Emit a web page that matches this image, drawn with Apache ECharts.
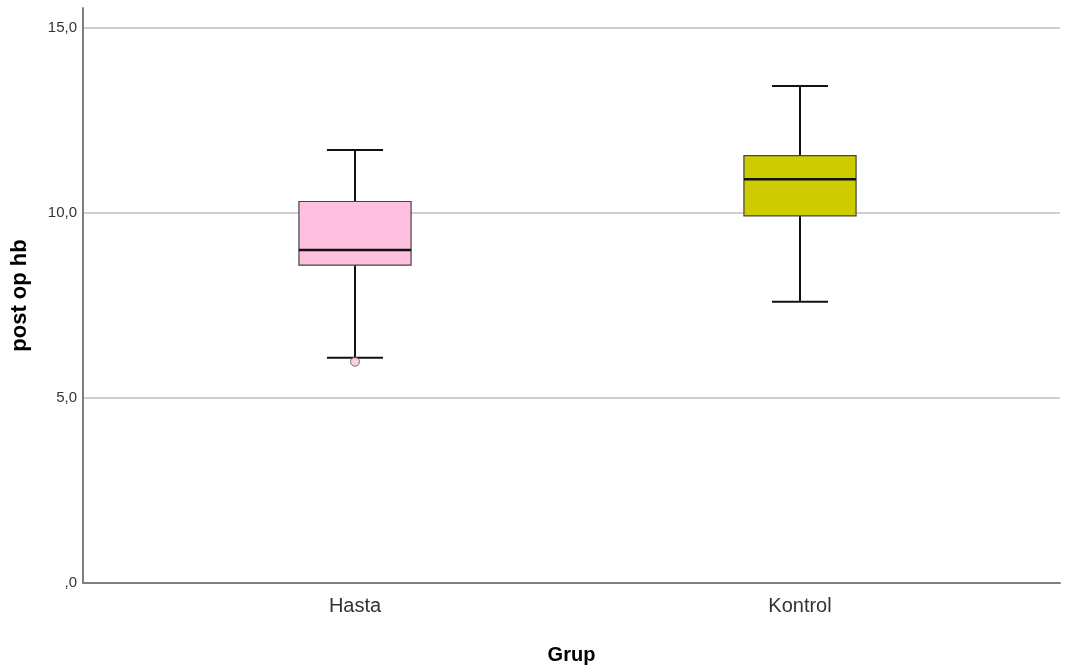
<!DOCTYPE html>
<html>
<head>
<meta charset="utf-8">
<script src="https://cdn.jsdelivr.net/npm/echarts@6/dist/echarts.min.js"></script>
<style>
  html, body { margin: 0; padding: 0; background: #ffffff; }
  #chart { width: 1076px; height: 670px; }
</style>
</head>
<body>
<div id="chart"></div>
<script>
// Groups and five-number summaries of post-operative haemoglobin
var categories = ['Hasta', 'Kontrol'];
var whiskerLow = [6.09, 7.60];
var q1 = [8.59, 9.92];
var median = [9.00, 10.91];
var q3 = [10.31, 11.55];
var whiskerHigh = [11.70, 13.43];
// Outlier points: [group index, value]
var outliers = [[0, 5.98]];
var yTicks = [0, 5, 10, 15];

var boxColors = ['#ffc0e0', '#cccc00'];

var boxData = categories.map(function (c, i) {
  return [i, whiskerLow[i], q1[i], median[i], q3[i], whiskerHigh[i]];
});

function fmtTick(v) {
  if (v === 0) return ',0';
  return v.toFixed(1).replace('.', ',');
}

var FONT = 'Liberation Sans, Arial, sans-serif';
var yMax = 15.54;
var TOP = 8, BOTTOM = 87;

// Split lines at the regular ticks; the extra line at the axis top stays invisible
var splitColors = yTicks.map(function () { return '#cfcfcf'; }).concat(['rgba(0,0,0,0)']);

var chart = echarts.init(document.getElementById('chart'));

chart.setOption({
  animation: false,
  backgroundColor: '#ffffff',
  grid: [
    { left: 83, right: 16, top: TOP, bottom: BOTTOM },
    { left: 132.5, right: 53.5, top: TOP, bottom: BOTTOM }
  ],
  xAxis: [
    {
      gridIndex: 0, type: 'category', data: categories,
      axisLine: { lineStyle: { color: '#7f7f7f', width: 2 } },
      axisTick: { show: false }, axisLabel: { show: false },
      splitLine: { show: false },
      name: 'Grup', nameLocation: 'middle', nameGap: 62,
      nameTextStyle: { fontFamily: FONT, fontWeight: 'bold', fontSize: 20, color: '#000' }
    },
    {
      gridIndex: 1, type: 'category', data: categories,
      axisLine: { show: false }, axisTick: { show: false },
      axisLabel: { margin: 13, fontFamily: FONT, fontSize: 20, color: '#333' }
    }
  ],
  yAxis: [
    {
      gridIndex: 0, type: 'value', min: 0, max: yMax, interval: 5,
      axisLine: { show: true, lineStyle: { color: '#7f7f7f', width: 2 } },
      axisTick: { show: false },
      axisLabel: {
        margin: 6, fontFamily: FONT, fontSize: 15, color: '#333',
        formatter: function (v) { return yTicks.indexOf(v) >= 0 ? fmtTick(v) : ''; },
        showMaxLabel: false
      },
      splitLine: { show: true, lineStyle: { color: splitColors, width: 2 } },
      name: 'post op hb', nameLocation: 'middle', nameGap: 52, nameRotate: 90,
      nameTextStyle: { fontFamily: FONT, fontWeight: 'bold', fontSize: 22, color: '#000' }
    },
    {
      gridIndex: 1, type: 'value', min: 0, max: yMax,
      show: false, splitLine: { show: false }
    }
  ],
  series: [
    {
      type: 'custom',
      xAxisIndex: 1, yAxisIndex: 1,
      data: boxData,
      renderItem: function (params, api) {
        var idx = api.value(0);
        var pLow = api.coord([idx, api.value(1)]);
        var pQ1 = api.coord([idx, api.value(2)]);
        var pMed = api.coord([idx, api.value(3)]);
        var pQ3 = api.coord([idx, api.value(4)]);
        var pHigh = api.coord([idx, api.value(5)]);
        var cx = pMed[0];
        var bw = api.size([1, 0])[0] * 0.252;
        var cw = bw / 2;
        var lineStyle = { stroke: '#111', lineWidth: 2 };
        return {
          type: 'group',
          children: [
            { type: 'line', shape: { x1: cx, y1: pHigh[1], x2: cx, y2: pQ3[1] }, style: lineStyle },
            { type: 'line', shape: { x1: cx, y1: pQ1[1], x2: cx, y2: pLow[1] }, style: lineStyle },
            { type: 'line', shape: { x1: cx - cw / 2, y1: pHigh[1], x2: cx + cw / 2, y2: pHigh[1] }, style: lineStyle },
            { type: 'line', shape: { x1: cx - cw / 2, y1: pLow[1], x2: cx + cw / 2, y2: pLow[1] }, style: lineStyle },
            {
              type: 'rect',
              shape: { x: cx - bw / 2, y: pQ3[1], width: bw, height: pQ1[1] - pQ3[1] },
              style: { fill: boxColors[idx], stroke: '#444', lineWidth: 1.2 }
            },
            { type: 'line', shape: { x1: cx - bw / 2, y1: pMed[1], x2: cx + bw / 2, y2: pMed[1] }, style: { stroke: '#111', lineWidth: 2.4 } }
          ]
        };
      },
      z: 3
    },
    {
      type: 'scatter',
      xAxisIndex: 1, yAxisIndex: 1,
      data: outliers,
      symbol: 'circle', symbolSize: 9,
      itemStyle: {
        color: function (p) { return boxColors[p.data[0]]; },
        borderColor: '#555', borderWidth: 1
      },
      z: 4
    }
  ]
});
</script>
</body>
</html>
